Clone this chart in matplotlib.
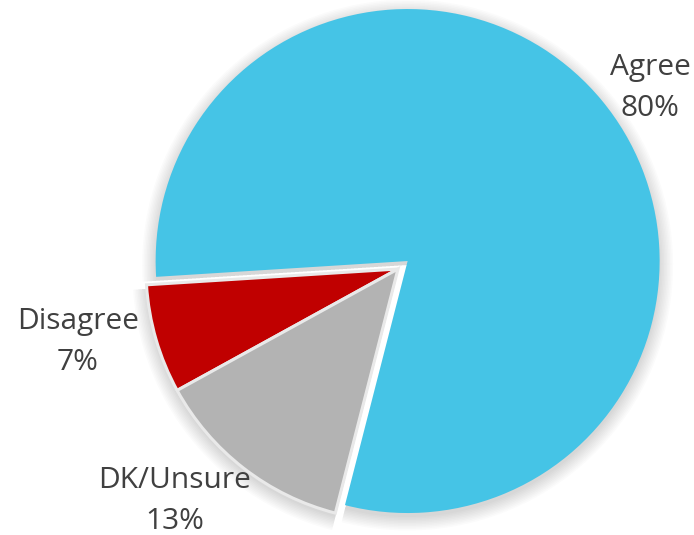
import matplotlib.pyplot as plt

# survey responses
labels = ["Agree", "Disagree", "DK/Unsure"]
shares = [80, 7, 13]
colors = ["#45C4E6", "#C00000", "#B3B3B3"]

W, H = 694, 535
center = (398, H - 269)
radius = 252
start = 255.6
explode = [12.5, 0, 0]  # pie() offsets in data units (pixels here)

plt.rcParams["font.family"] = ["Open Sans", "DejaVu Sans"]

fig = plt.figure(figsize=(W / 100, H / 100), dpi=100)
ax = fig.add_axes([0, 0, 1, 1])

# soft drop shadow: stacked faint halos slightly below the pie
for k in range(10):
    ax.pie(shares, radius=radius + 1.5 * k, center=(center[0], center[1] - 4),
           startangle=start, counterclock=True, explode=explode,
           colors=["#000000"] * 3, frame=True,
           wedgeprops=dict(alpha=0.015, linewidth=0))

wedges, _ = ax.pie(shares, radius=radius, center=center, startangle=start,
                   counterclock=True, explode=explode, colors=colors, frame=True,
                   wedgeprops=dict(edgecolor="#E9E9E9", linewidth=2.2))
wedges[0].set_linewidth(0)

ax.set_xlim(0, W)
ax.set_ylim(0, H)
ax.set_aspect("equal")
ax.axis("off")

label_pos = [(650, H - 88), (78, H - 342), (175, H - 501)]
for name, val, (x, y) in zip(labels, shares, label_pos):
    ax.text(x, y, f"{name}\n{val}%", ha="center", va="center", fontsize=21.5,
            color="#404040", linespacing=1.55)

fig.savefig("out.png", dpi=100)
